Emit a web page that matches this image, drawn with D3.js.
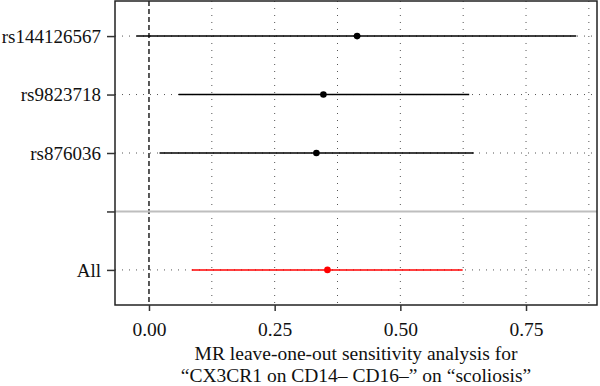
<!DOCTYPE html>
<html>
<head>
<meta charset="utf-8">
<script src="https://cdn.jsdelivr.net/npm/d3@7"></script>
<style>
  body { margin: 0; background: #fff; }
  text { font-family: "Liberation Serif", "DejaVu Serif", serif; }
</style>
</head>
<body>
<div id="chart"></div>
<script>
    // leave-one-out estimates
    var snps = ["rs144126567", "rs9823718", "rs876036", "", "All"];
    var estimate = [0.414, 0.347, 0.333, null, 0.355];
    var lower = [-0.025, 0.059, 0.021, null, 0.085];
    var upper = [0.850, 0.637, 0.646, null, 0.624];
    var xTicks = [0, 0.25, 0.5, 0.75];
    var xTickLabels = ["0.00", "0.25", "0.50", "0.75"];
    var gridX = [0.125, 0.25, 0.375, 0.5, 0.625, 0.75, 0.875];
    var titleLines = ["MR leave-one-out sensitivity analysis for",
                      "\u201cCX3CR1 on CD14\u2013 CD16\u2013\u201d on \u201cscoliosis\u201d"];

    var width = 600;
    var height = 386;
    var pLeft = 115, pRight = 597, pTop = 1, pBottom = 305;

    var svg = d3.select("#chart")
          .append("svg")
          .attr("width", width)
          .attr("height", height);

    var x = d3.scaleLinear()
        .domain([-0.0676, 0.8912])
        .range([pLeft, pRight]);

    var y = d3.scalePoint()
        .domain(snps)
        .range([pTop, pBottom])
        .padding(0.6);

    var rows = snps.map(function(s, i){
      return {snp: s, b: estimate[i], lo: lower[i], hi: upper[i]};
    }).filter(function(d){ return d.b !== null; });

    // grid
    svg.append("g").selectAll("line")
      .data(gridX)
      .enter().append("line")
      .attr("x1", function(d){ return x(d); })
      .attr("x2", function(d){ return x(d); })
      .attr("y1", pTop)
      .attr("y2", pBottom)
      .attr("stroke", "#555")
      .attr("stroke-width", 1)
      .attr("stroke-dasharray", "1,6");

    svg.append("g").selectAll("line")
      .data(rows)
      .enter().append("line")
      .attr("x1", pLeft)
      .attr("x2", pRight)
      .attr("y1", function(d){ return y(d.snp); })
      .attr("y2", function(d){ return y(d.snp); })
      .attr("stroke", "#555")
      .attr("stroke-width", 1)
      .attr("stroke-dasharray", "1,6");

    // null line
    svg.append("line")
      .attr("x1", x(0)).attr("x2", x(0))
      .attr("y1", pTop).attr("y2", pBottom)
      .attr("stroke", "#000")
      .attr("stroke-width", 1.3)
      .attr("stroke-dasharray", "5,3");

    // separator between single SNPs and All
    svg.append("line")
      .attr("x1", pLeft).attr("x2", pRight)
      .attr("y1", y("")).attr("y2", y(""))
      .attr("stroke", "#bebebe")
      .attr("stroke-width", 2);

    var colour = function(d){ return d.snp == "All" ? "#ff0000" : "#000"; };

    svg.append("g").selectAll("line")
      .data(rows)
      .enter().append("line")
      .attr("x1", function(d){ return x(d.lo); })
      .attr("x2", function(d){ return x(d.hi); })
      .attr("y1", function(d){ return y(d.snp); })
      .attr("y2", function(d){ return y(d.snp); })
      .attr("stroke", colour)
      .attr("stroke-width", 1.5);

    svg.append("g").selectAll("circle")
      .data(rows)
      .enter().append("circle")
      .attr("cx", function(d){ return x(d.b); })
      .attr("cy", function(d){ return y(d.snp); })
      .attr("r", 3.3)
      .attr("fill", colour);

    // panel border
    svg.append("rect")
      .attr("x", pLeft).attr("y", pTop)
      .attr("width", pRight - pLeft)
      .attr("height", pBottom - pTop)
      .attr("fill", "none")
      .attr("stroke", "#222")
      .attr("stroke-width", 1.5);

    // axes
    var xAxis = d3.axisBottom(x)
      .tickValues(xTicks)
      .tickFormat(function(d, i){ return xTickLabels[i]; })
      .tickSize(6)
      .tickPadding(11);

    var gx = svg.append("g")
      .attr("transform", "translate(0," + pBottom + ")")
      .call(xAxis);
    gx.select(".domain").remove();
    gx.selectAll("line").attr("stroke", "#333").attr("stroke-width", 1.5);
    gx.selectAll("text").attr("font-size", 19.5).attr("fill", "#111")
      .style("font-family", "Liberation Serif");

    var yAxis = d3.axisLeft(y)
      .tickSize(8)
      .tickPadding(6);

    var gy = svg.append("g")
      .attr("transform", "translate(" + pLeft + ",0)")
      .call(yAxis);
    gy.select(".domain").remove();
    gy.selectAll("line").attr("stroke", "#333").attr("stroke-width", 1.5);
    gy.selectAll("text").attr("font-size", 19).attr("fill", "#111")
      .style("font-family", "Liberation Serif");

    svg.append("g").selectAll("text")
      .data(titleLines)
      .enter().append("text")
      .attr("x", (pLeft + pRight) / 2)
      .attr("y", function(d, i){ return 360 + i * 22; })
      .attr("text-anchor", "middle")
      .attr("font-size", 19.5)
      .attr("fill", "#111")
      .text(function(d){ return d; });
</script>
</body>
</html>
